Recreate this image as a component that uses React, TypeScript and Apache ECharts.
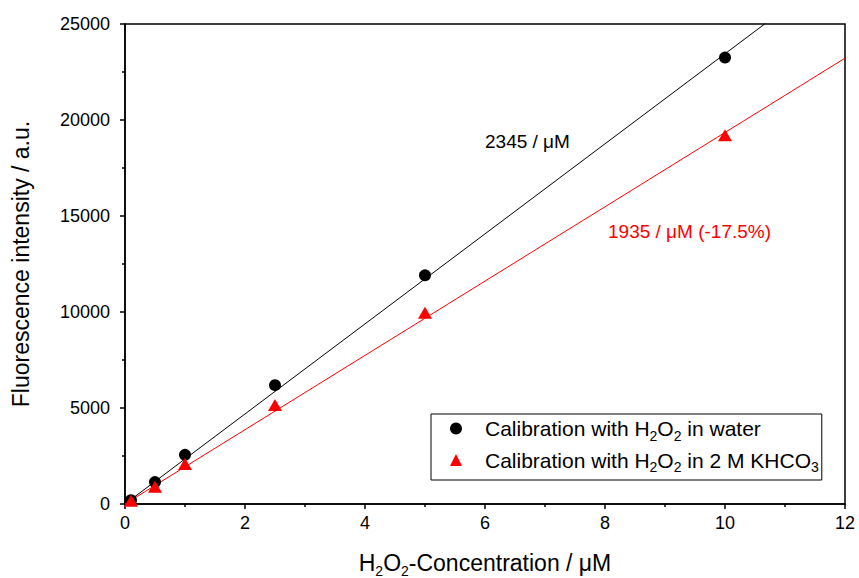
import React, { useEffect, useRef } from "react";
import * as echarts from "echarts";

const xValues = [0.1, 0.5, 1, 2.5, 5, 10];
const waterValues = [200, 1140, 2560, 6190, 11910, 23250];
const khco3Values = [170, 900, 2080, 5160, 9960, 19200];
const slopes = [2345, 1935];
const xTicks = [0, 2, 4, 6, 8, 10, 12];
const yTicks = [0, 5000, 10000, 15000, 20000, 25000];
const seriesNames = ["water", "khco3"];
const annotations = ["2345 / μM", "1935 / μM (-17.5%)"];

const FONT = "'Liberation Sans', Arial, Helvetica, sans-serif";

export default function App() {
  const ref = useRef<HTMLDivElement>(null);
  useEffect(() => {
    if (!ref.current) return;
    const chart = echarts.init(ref.current, undefined, { renderer: "svg" });
    const xMax = xTicks[xTicks.length - 1];
    const legendLabels: Record<string, string> = {
      water: "{g|}{t|Calibration with H}{s|2}{t|O}{s|2}{t| in water}",
      khco3: "{g|}{t|Calibration with H}{s|2}{t|O}{s|2}{t| in 2 M KHCO}{s|3}",
    };
    const option: any = {
      animation: false,
      backgroundColor: "#fff",
      textStyle: { fontFamily: FONT },
      grid: {
        left: 125,
        right: 14,
        top: 24,
        bottom: 74,
        containLabel: false,
        outerBoundsMode: "none",
        show: true,
        borderColor: "#000",
        borderWidth: 1.5,
        backgroundColor: "transparent",
      },
      legend: {
        orient: "vertical",
        left: 431,
        top: 414,
        padding: [4, 3, 6, 19],
        itemGap: 7,
        itemWidth: 12,
        itemHeight: 12,
        borderColor: "#000",
        borderWidth: 1,
        backgroundColor: "#fff",
        data: [
          { name: seriesNames[0], icon: "circle", itemStyle: { opacity: 1 } },
          { name: seriesNames[1], icon: "triangle", itemStyle: { opacity: 1 } },
        ],
        formatter: (name: string) => legendLabels[name],
        textStyle: {
          color: "#000",
          fontFamily: FONT,
          rich: {
            g: { width: 18 },
            t: { fontSize: 21, color: "#000", fontFamily: FONT },
            s: { fontSize: 14, color: "#000", fontFamily: FONT, padding: [14, 0, 0, 0] },
          },
        },
      },
      xAxis: {
        type: "value",
        min: xTicks[0],
        max: xMax,
        interval: 2,
        name: "{n|H}{s|2}{n|O}{s|2}{n|-Concentration / μM}",
        nameLocation: "middle",
        nameGap: 44,
        nameTextStyle: {
          color: "#000",
          rich: {
            n: { fontSize: 23, color: "#000", fontFamily: FONT },
            s: { fontSize: 14, color: "#000", fontFamily: FONT, padding: [16, 0, 0, 0] },
          },
        },
        axisLine: { show: true, onZero: false, lineStyle: { color: "#000", width: 1.5 } },
        axisTick: { show: true, length: 5, inside: false, lineStyle: { color: "#000", width: 1.5 } },
        minorTick: { show: true, splitNumber: 2, length: 3, lineStyle: { color: "#000", width: 1.5 } },
        axisLabel: { color: "#000", fontSize: 18, margin: 10, fontFamily: FONT, formatter: (v: number) => String(v) },
        splitLine: { show: false },
      },
      yAxis: {
        type: "value",
        min: yTicks[0],
        max: yTicks[yTicks.length - 1],
        interval: 5000,
        name: "Fluorescence intensity / a.u.",
        nameLocation: "middle",
        nameGap: 93,
        nameTextStyle: { color: "#000", fontSize: 23, fontFamily: FONT },
        axisLine: { show: true, onZero: false, lineStyle: { color: "#000", width: 1.5 } },
        axisTick: { show: true, length: 5, inside: false, lineStyle: { color: "#000", width: 1.5 } },
        minorTick: { show: true, splitNumber: 2, length: 3, lineStyle: { color: "#000", width: 1.5 } },
        axisLabel: { color: "#000", fontSize: 18, margin: 15, fontFamily: FONT, formatter: (v: number) => String(v) },
        splitLine: { show: false },
      },
      graphic: [
        {
          type: "text",
          left: 485,
          top: 132,
          style: { text: annotations[0], fill: "#000", fontSize: 19, fontFamily: FONT },
        },
        {
          type: "text",
          left: 608,
          top: 222,
          style: { text: annotations[1], fill: "#ff0000", fontSize: 19, fontFamily: FONT },
        },
      ],
      series: [
        {
          name: "fitWater",
          type: "line",
          data: [
            [0, 0],
            [xMax, slopes[0] * xMax],
          ],
          showSymbol: false,
          symbol: "none",
          lineStyle: { color: "#000", width: 1 },
          clip: true,
          silent: true,
          z: 1,
        },
        {
          name: "fitKhco3",
          type: "line",
          data: [
            [0, 0],
            [xMax, slopes[1] * xMax],
          ],
          showSymbol: false,
          symbol: "none",
          lineStyle: { color: "#ff0000", width: 1 },
          clip: true,
          silent: true,
          z: 1,
        },
        {
          name: seriesNames[0],
          type: "scatter",
          symbol: "circle",
          symbolSize: 12,
          itemStyle: { color: "#000", opacity: 1 },
          data: xValues.map((x, i) => [x, waterValues[i]]),
          z: 3,
        },
        {
          name: seriesNames[1],
          type: "scatter",
          symbol: "triangle",
          symbolSize: [14, 12],
          itemStyle: { color: "#ff0000", opacity: 1 },
          data: xValues.map((x, i) => [x, khco3Values[i]]),
          z: 3,
        },
      ],
    };
    chart.setOption(option);
    return () => chart.dispose();
  }, []);
  return (
    <div
      ref={ref}
      style={{ position: "fixed", left: 0, top: 0, width: 859, height: 578, background: "#fff" }}
    />
  );
}
